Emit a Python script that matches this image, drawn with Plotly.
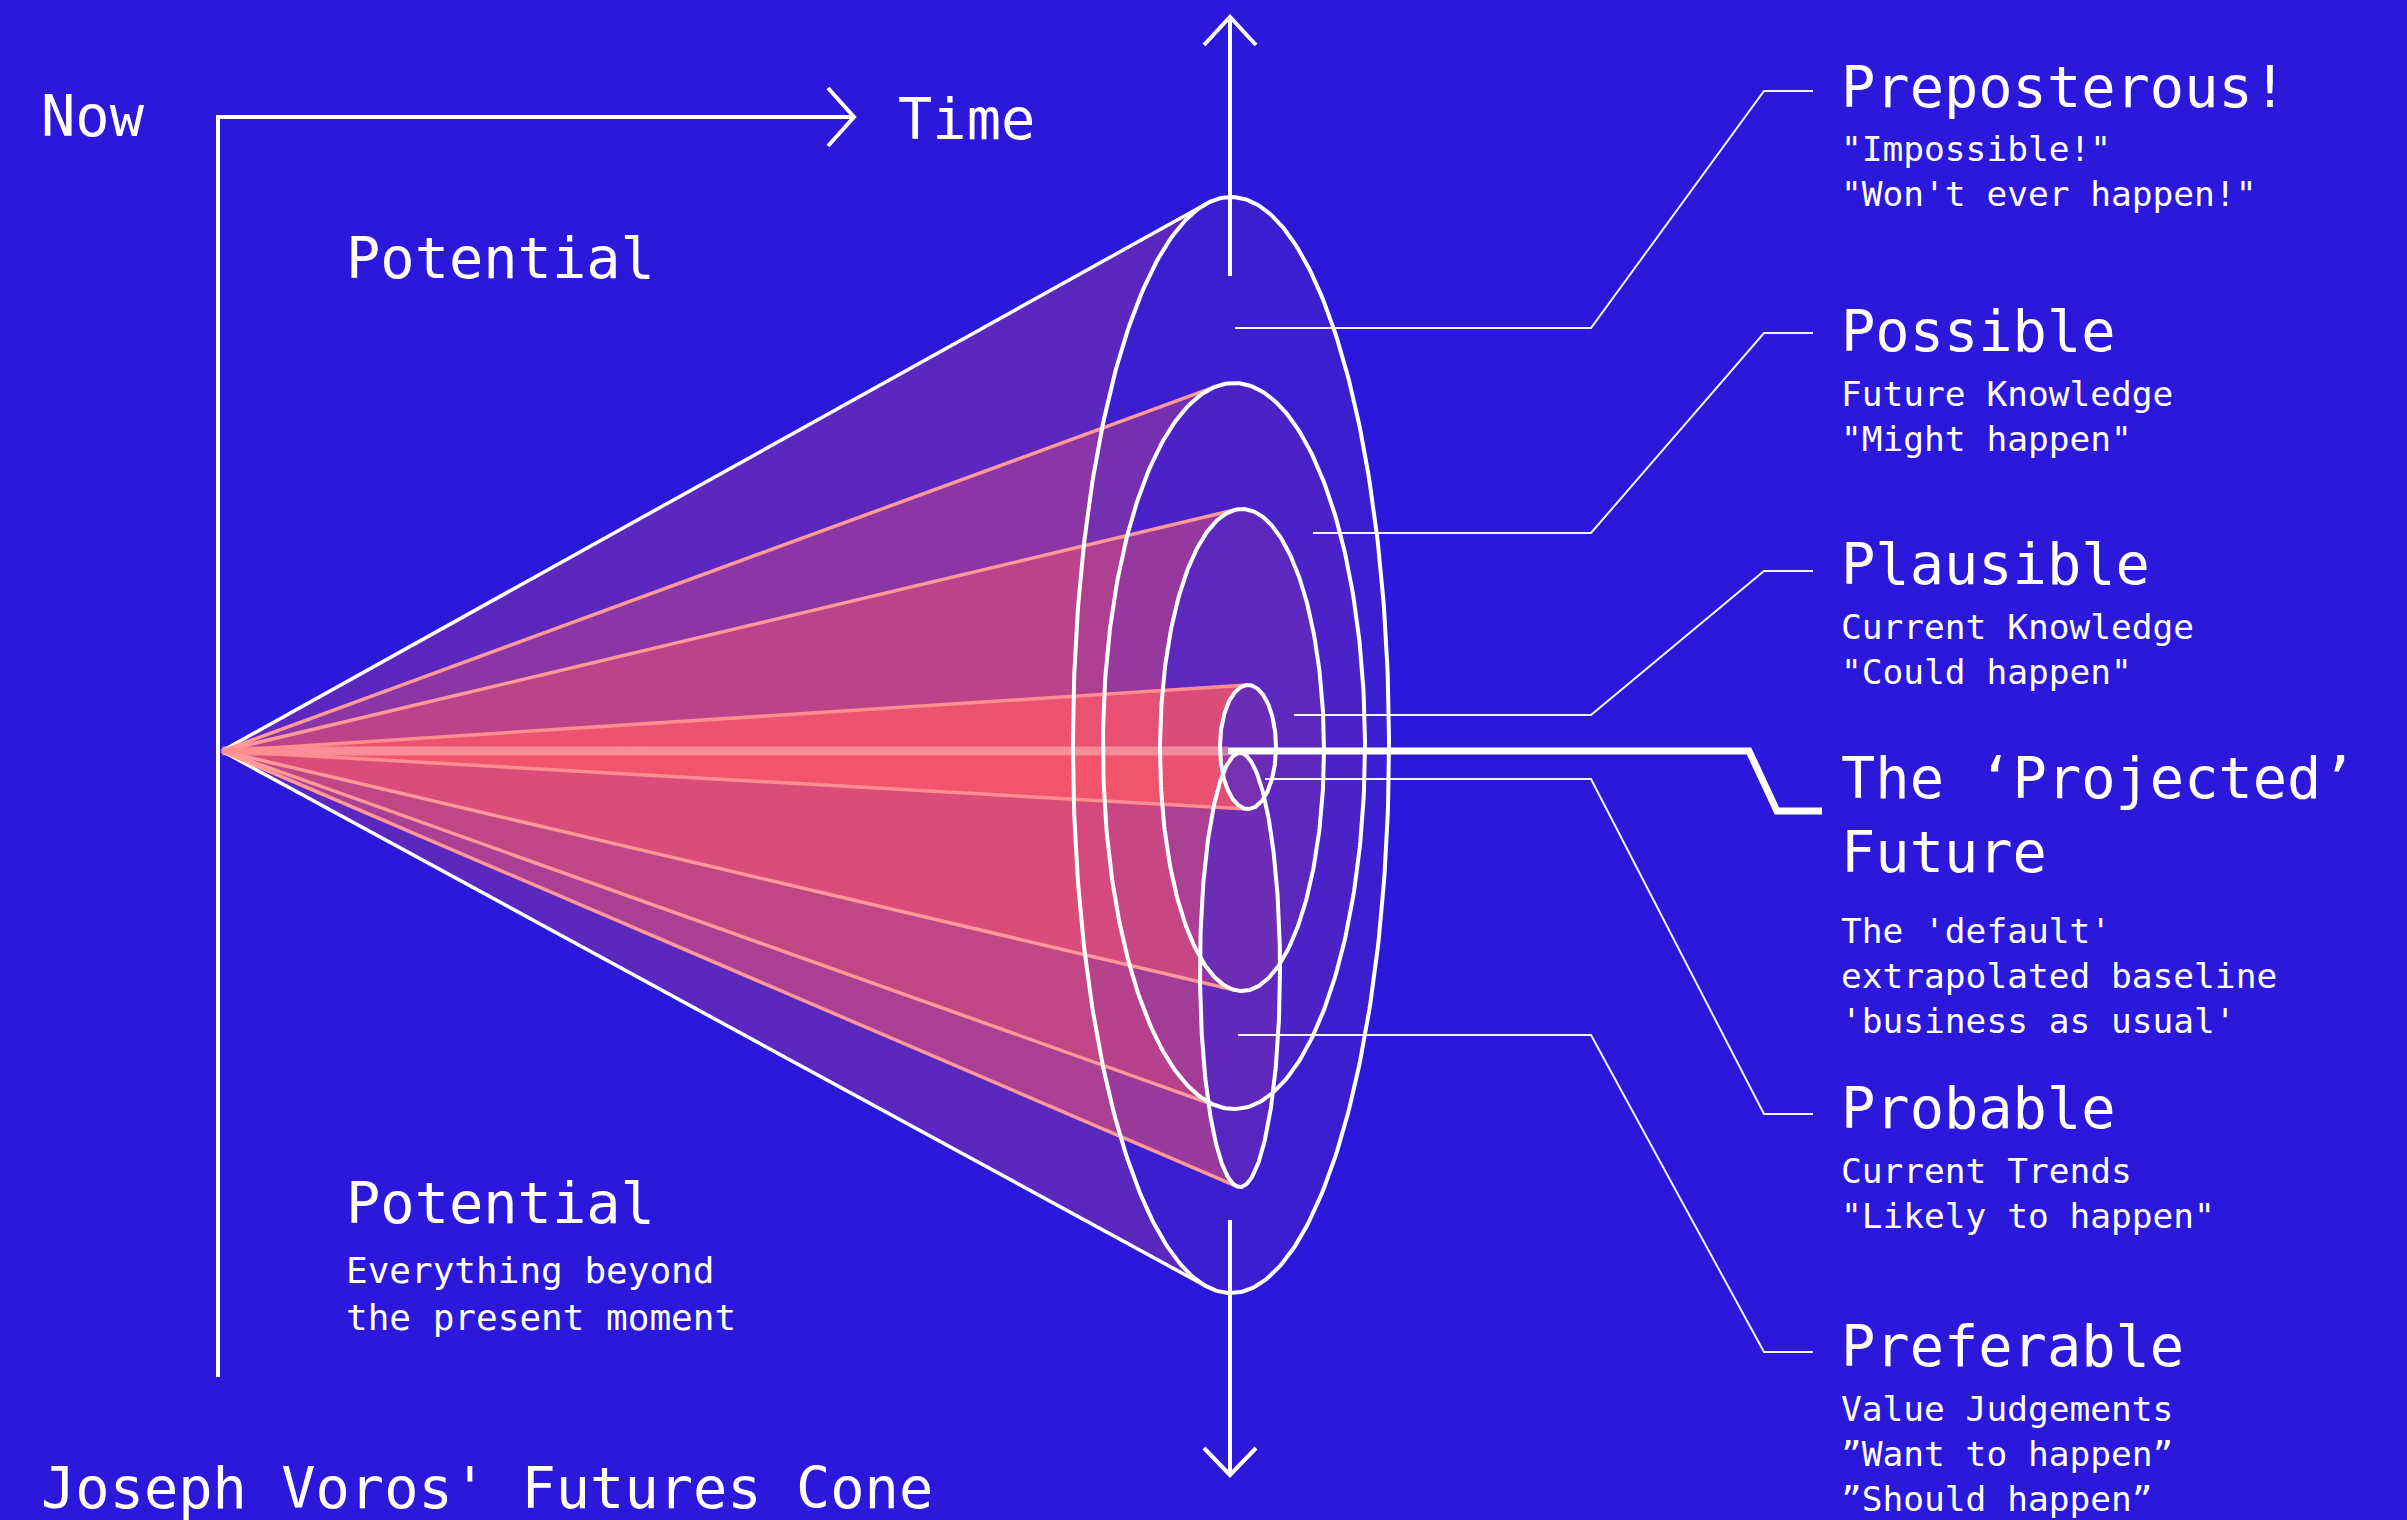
import numpy as np
import plotly.graph_objects as go

# ---------------- data ----------------
BG = "#2A19DA"
W, H = 2407, 1520
FONT = "DejaVu Sans Mono"

# cone apex ("Now") and ellipse cross-sections of the futures cone
apex_x, apex_y = 222, 751
levels   = ["Preposterous", "Possible", "Plausible", "Preferable", "Projected"]
ell_cx   = [1231, 1234, 1242, 1240, 1248]
ell_cy   = [745, 746, 750, 970, 747]
ell_rx   = [158, 131, 82, 40, 28]
ell_ry   = [548, 363, 241, 217, 62]
cone_alpha = [0.24, 0.31, 0.43, 0.50, 0.80]
face_alpha = [0.18, 0.185, 0.30, 0.35, 0.30]
edge_color = ["#FFFFFF", "#FF9A98", "#FF9A98", "#FF9A98", "#FF8E90"]
draw_top_edge = [True, True, True, False, True]

# leader lines: start x on ellipse, y of horizontal, y of label tick
leader_x0 = [1235, 1313, 1294, 1265, 1238]
leader_y0 = [328, 533, 715, 779, 1035]
leader_y1 = [91, 333, 571, 1114, 1352]
leader_xk, leader_xd, leader_xe = 1591, 1764, 1813

# projected-future thick line
proj_x = [1228, 1749, 1777, 1822]
proj_y = [751, 751, 811, 811]

right_titles = ["Preposterous!", "Possible", "Plausible",
                "The \u2018Projected\u2019<br>Future", "Probable", "Preferable"]
right_title_base = [106, 350, 583, 797, 1127, 1365]
right_subs = ['"Impossible!"<br>"Won\'t ever happen!"',
              'Future Knowledge<br>"Might happen"',
              'Current Knowledge<br>"Could happen"',
              "The 'default'<br>extrapolated baseline<br>'business as usual'",
              'Current Trends<br>"Likely to happen"',
              'Value Judgements<br>\u201dWant to happen\u201d<br>\u201dShould happen\u201d']
right_sub_base = [160, 405, 638, 942, 1182, 1420]

left_texts = ["Now", "Time", "Potential", "Potential", "Joseph Voros' Futures Cone"]
left_x     = [40, 897, 345, 345, 40]
left_base  = [135, 138, 277, 1222, 1507]
left_sub   = "Everything beyond<br>the present moment"

TITLE_SIZE, SUB_SIZE, LSUB_SIZE = 57, 34.5, 36
ASC = 0.928
PINK = (250, 86, 104)
FACE = (140, 55, 165)

# ---------------- helpers ----------------
def ell_pts(cx, cy, a, b, t):
    return cx + a * np.cos(t), cy + b * np.sin(t)

def tangent_params(px, py, cx, cy, a, b):
    u = (cx - px) / a
    v = (cy - py) / b
    R = np.hypot(u, v)
    phi = np.arctan2(v, u)
    d = np.arccos(-1.0 / R)
    return phi + d, phi - d  # t1, t2

fig = go.Figure()

def add_line(xs, ys, color="#FFFFFF", width=4):
    fig.add_trace(go.Scatter(x=xs, y=ys, mode="lines", hoverinfo="skip",
                             line=dict(color=color, width=width), showlegend=False))

# ---------------- cone fills and ellipse faces ----------------
tangents = []
for i in range(len(levels)):
    cx, cy, a, b = ell_cx[i], ell_cy[i], ell_rx[i], ell_ry[i]
    t1, t2 = tangent_params(apex_x, apex_y, cx, cy, a, b)
    tangents.append((t1, t2))
    arc_t = np.linspace(t1, t2 + 2 * np.pi, 200)
    axs, ays = ell_pts(cx, cy, a, b, arc_t)
    xs = np.concatenate([[apex_x], axs, [apex_x]])
    ys = np.concatenate([[apex_y], ays, [apex_y]])
    fig.add_trace(go.Scatter(x=xs, y=ys, mode="lines", fill="toself",
                             fillcolor=f"rgba({PINK[0]},{PINK[1]},{PINK[2]},{cone_alpha[i]})",
                             line=dict(width=0), hoverinfo="skip", showlegend=False))
    ft = np.linspace(0, 2 * np.pi, 300)
    fx, fy = ell_pts(cx, cy, a, b, ft)
    fig.add_trace(go.Scatter(x=fx, y=fy, mode="lines", fill="toself",
                             fillcolor=f"rgba({FACE[0]},{FACE[1]},{FACE[2]},{face_alpha[i]})",
                             line=dict(width=0), hoverinfo="skip", showlegend=False))

# light centre band (projected path through the cone)
add_line([apex_x, proj_x[0]], [apex_y, proj_y[0]], "rgba(255,180,180,0.6)", 9)

# cone edges
for i in range(len(levels)):
    cx, cy, a, b = ell_cx[i], ell_cy[i], ell_rx[i], ell_ry[i]
    t1, t2 = tangents[i]
    x1, y1 = ell_pts(cx, cy, a, b, t1)
    x2, y2 = ell_pts(cx, cy, a, b, t2)
    w = 3.5 if i == 0 else 3.5
    pts = sorted([(y1, x1), (y2, x2)])
    (uy, ux), (ly, lx) = pts
    if draw_top_edge[i]:
        add_line([apex_x, ux], [apex_y, uy], edge_color[i], w)
    add_line([apex_x, lx], [apex_y, ly], edge_color[i], w)

# ellipse outlines
for i in range(len(levels)):
    ft = np.linspace(0, 2 * np.pi, 400)
    fx, fy = ell_pts(ell_cx[i], ell_cy[i], ell_rx[i], ell_ry[i], ft)
    add_line(fx, fy, "#FFFFFF", 4)

# leader lines
for i in range(len(leader_x0)):
    add_line([leader_x0[i], leader_xk, leader_xd, leader_xe],
             [leader_y0[i], leader_y0[i], leader_y1[i], leader_y1[i]],
             "rgba(255,255,255,0.95)", 2)

# projected future thick line
add_line(proj_x, proj_y, "#FFFFFF", 7)

# Now / Time axes
add_line([218, 218, 854], [1377, 117, 117], "#FFFFFF", 4)
add_line([828, 854, 828], [88, 117, 146], "#FFFFFF", 4)

# vertical arrows through the cone mouth
add_line([1230, 1230], [276, 17], "#FFFFFF", 4)
add_line([1204, 1230, 1256], [45, 17, 45], "#FFFFFF", 4)
add_line([1230, 1230], [1220, 1475], "#FFFFFF", 4)
add_line([1204, 1230, 1256], [1448, 1475, 1448], "#FFFFFF", 4)

# ---------------- text ----------------
ann = []
def text(x, base, s, size):
    ann.append(dict(x=x, y=base - ASC * size, text=s, xref="x", yref="y",
                    xanchor="left", yanchor="top", align="left", showarrow=False,
                    borderpad=0, font=dict(family=FONT, size=size, color="#FFFFFF")))

for t, b in zip(right_titles, right_title_base):
    text(1840, b, t, TITLE_SIZE)
for t, b in zip(right_subs, right_sub_base):
    text(1840, b, t, SUB_SIZE)
for t, x, b in zip(left_texts, left_x, left_base):
    text(x, b, t, TITLE_SIZE)
text(345, 1282, left_sub, LSUB_SIZE)

fig.update_layout(
    width=W, height=H, margin=dict(l=0, r=0, t=0, b=0),
    paper_bgcolor=BG, plot_bgcolor=BG, showlegend=False,
    xaxis=dict(range=[0, W], visible=False, fixedrange=True),
    yaxis=dict(range=[H, 0], visible=False, fixedrange=True),
    annotations=ann,
)

fig.write_html("out.html", config={"displayModeBar": False},
               post_script="document.body.style.margin='0';document.body.style.overflow='hidden';")
